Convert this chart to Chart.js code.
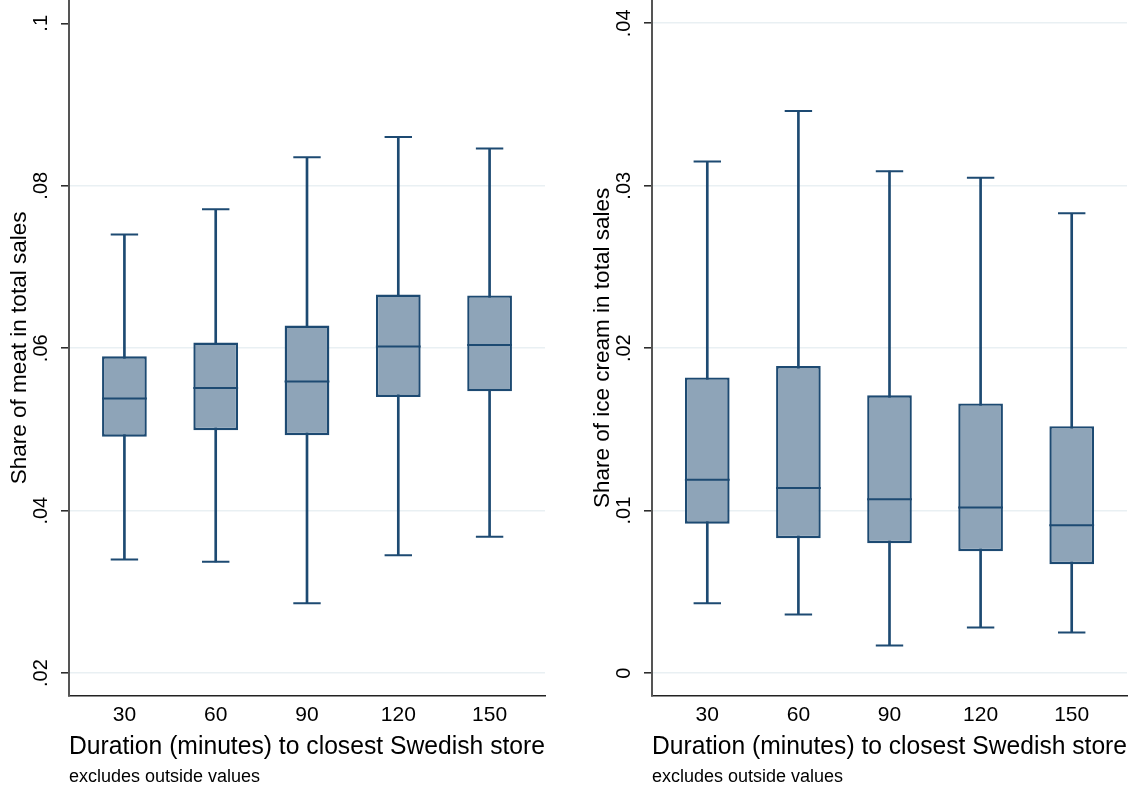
<!DOCTYPE html>
<html>
<head>
<meta charset="utf-8">
<script src="https://cdn.jsdelivr.net/npm/chart.js@4/dist/chart.umd.min.js"></script>
<style>
  html, body { margin: 0; padding: 0; background: #fff; }
  #wrap { position: relative; width: 1142px; height: 792px; overflow: hidden; }
  canvas { position: absolute; top: 0; }
</style>
</head>
<body>
<div id="wrap">
  <canvas id="meat" width="571" height="792" style="left:0px"></canvas>
  <canvas id="ice" width="559" height="792" style="left:583px"></canvas>
</div>
<script>
// ---- data ----
const categories = ['30', '60', '90', '120', '150'];

const meatLower  = [0.0340, 0.0337, 0.0286, 0.0345, 0.0368];
const meatQ1     = [0.0491, 0.0499, 0.0493, 0.0540, 0.0547];
const meatMedian = [0.0538, 0.0551, 0.0559, 0.0602, 0.0604];
const meatQ3     = [0.0590, 0.0607, 0.0628, 0.0666, 0.0665];
const meatUpper  = [0.0740, 0.0771, 0.0835, 0.0860, 0.0846];

const iceLower  = [0.0043, 0.0036, 0.0017, 0.0028, 0.0025];
const iceQ1     = [0.0092, 0.0083, 0.0080, 0.0075, 0.0067];
const iceMedian = [0.0119, 0.0114, 0.0107, 0.0102, 0.0091];
const iceQ3     = [0.0182, 0.0189, 0.0171, 0.0166, 0.0152];
const iceUpper  = [0.0315, 0.0346, 0.0309, 0.0305, 0.0283];

const meatTicks = [0.02, 0.04, 0.06, 0.08, 0.1];
const meatTickLabels = ['.02', '.04', '.06', '.08', '.1'];
const iceTicks = [0, 0.01, 0.02, 0.03, 0.04];
const iceTickLabels = ['0', '.01', '.02', '.03', '.04'];

// ---- styles ----
const FONT = "'Liberation Sans', Arial, Helvetica, sans-serif";
const NAVY = '#1d4a72';
const BOXFILL = '#8ea4b8';
const GRID = '#e9f0f3';

Chart.defaults.font.family = FONT;
Chart.defaults.color = '#000';

function makePanel(id, opt) {
  const xs = categories.map((c, i) => i + 1);
  const pts = (arr) => arr.map((v, i) => ({ x: xs[i], y: v }));
  const ranges = (a, b) => a.map((v, i) => ({ x: xs[i], y: [v, b[i]] }));

  return new Chart(document.getElementById(id), {
    type: 'bar',
    data: {
      datasets: [
        {
          label: 'whiskers',
          type: 'bar',
          data: ranges(opt.lower, opt.upper),
          backgroundColor: NAVY,
          borderWidth: 0,
          barThickness: 2,
          grouped: false,
          order: 3
        },
        {
          label: 'boxes',
          type: 'bar',
          data: ranges(opt.q1, opt.q3),
          backgroundColor: BOXFILL,
          borderColor: NAVY,
          borderWidth: 2.4,
          borderSkipped: false,
          barPercentage: 0.49,
          categoryPercentage: 1,
          grouped: false,
          order: 2
        },
        {
          label: 'median',
          type: 'scatter',
          data: pts(opt.median),
          pointStyle: 'line',
          pointRadius: 22.4,
          pointBorderWidth: 2,
          pointBorderColor: NAVY,
          order: 1
        },
        {
          label: 'caps',
          type: 'scatter',
          data: pts(opt.upper).concat(pts(opt.lower)),
          pointStyle: 'line',
          pointRadius: 13.7,
          pointBorderWidth: 2,
          pointBorderColor: NAVY,
          order: 1
        }
      ]
    },
    options: {
      responsive: false,
      animation: false,
      devicePixelRatio: 1,
      events: [],
      layout: {
        autoPadding: false,
        padding: { left: 0, right: opt.padRight, top: 0, bottom: 0 }
      },
      plugins: {
        legend: { display: false },
        tooltip: { enabled: false },
        title: {
          display: true,
          text: 'excludes outside values',
          position: 'bottom',
          align: 'start',
          fullSize: false,
          color: '#000',
          font: { size: 18, weight: 'normal', family: FONT },
          padding: { top: 0.8, bottom: 4.4 }
        }
      },
      scales: {
        x: {
          type: 'linear',
          offset: false,
          min: 0.393,
          max: 5.607,
          afterBuildTicks: (axis) => { axis.ticks = xs.map(v => ({ value: v })); },
          afterFit: (axis) => { axis.height = 69.4; axis.paddingLeft = 0; axis.paddingRight = 0; },
          ticks: {
            callback: (v, i) => categories[i],
            font: { size: 21, family: FONT },
            color: '#000',
            padding: 6.4,
            maxRotation: 0,
            minRotation: 0,
            autoSkip: false
          },
          grid: { display: false, drawTicks: false, offset: false },
          border: { display: true, color: '#222', width: 1.5 },
          title: {
            display: true,
            text: 'Duration (minutes) to closest Swedish store',
            font: { size: 25, family: FONT },
            color: '#000',
            padding: { top: 0, bottom: 3.4 }
          }
        },
        y: {
          type: 'linear',
          min: opt.yMin,
          max: opt.yMax,
          afterBuildTicks: (axis) => { axis.ticks = opt.ticks.map(v => ({ value: v })); },
          afterFit: (axis) => { axis.width = 69; axis.paddingTop = 0; axis.paddingBottom = 0; },
          ticks: {
            callback: (v, i) => opt.tickLabels[i],
            font: { size: 20, family: FONT },
            color: '#000',
            minRotation: 90,
            maxRotation: 90,
            crossAlign: 'center',
            padding: 6.1,
            autoSkip: false
          },
          grid: {
            color: (ctx) => (ctx.tick && opt.noGrid.includes(ctx.tick.value)) ? 'rgba(0,0,0,0)' : GRID,
            lineWidth: 1.6,
            drawTicks: true,
            tickLength: 8,
            tickColor: '#222',
            tickWidth: 1.5
          },
          border: { display: true, color: '#555', width: 2 },
          title: {
            display: true,
            text: opt.yTitle,
            font: { size: 22.5, family: FONT },
            color: '#000',
            padding: { top: 6.5, bottom: 0 }
          }
        }
      }
    }
  });
}

makePanel('meat', {
  lower: meatLower, q1: meatQ1, median: meatMedian, q3: meatQ3, upper: meatUpper,
  ticks: meatTicks, tickLabels: meatTickLabels, noGrid: [0.1],
  yMin: 0.01721, yMax: 0.10287,
  yTitle: 'Share of meat in total sales',
  padRight: 26
});

makePanel('ice', {
  lower: iceLower, q1: iceQ1, median: iceMedian, q3: iceQ3, upper: iceUpper,
  ticks: iceTicks, tickLabels: iceTickLabels, noGrid: [],
  yMin: -0.001397, yMax: 0.041434,
  yTitle: 'Share of ice cream in total sales',
  padRight: 15
});
</script>
</body>
</html>
